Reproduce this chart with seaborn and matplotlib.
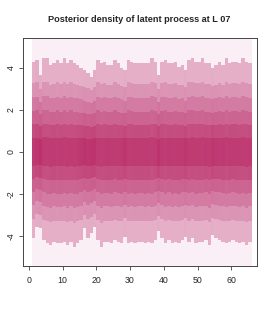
import numpy as np
import matplotlib
matplotlib.use("Agg")
import matplotlib.pyplot as plt
import seaborn as sns

# -------------------------------
# DATA
# -------------------------------
TIME = list(range(1, 66))  # left edge of each column, column spans [t, t+1)

# outer edge of the coloured density per column
UPPER_EDGE = [4.30, 4.38, 3.67, 4.46, 4.46, 4.14, 4.22, 4.38, 4.22, 4.46,
              4.22, 4.38, 4.22, 4.14, 3.98, 3.90, 3.75, 3.59, 3.90, 4.38,
              4.22, 4.30, 4.14, 4.14, 4.38, 4.22, 3.98, 3.90, 4.38, 4.30,
              4.22, 4.22, 4.22, 4.22, 4.22, 4.46, 4.30, 3.67, 4.30, 4.38,
              4.22, 4.22, 4.30, 4.06, 4.14, 3.90, 4.38, 4.46, 4.30, 4.30,
              4.46, 4.22, 4.22, 3.98, 4.14, 4.30, 4.14, 4.46, 4.22, 4.30,
              4.30, 4.22, 4.46, 4.30, 4.22]
LOWER_EDGE = [-4.11, -3.56, -3.63, -4.19, -4.35, -4.43, -4.27, -4.35, -4.35, -4.27,
              -4.43, -4.27, -4.51, -4.35, -4.19, -3.63, -4.11, -3.87, -3.56, -4.19,
              -4.51, -4.27, -4.27, -4.35, -4.19, -4.27, -4.35, -4.03, -4.35, -4.27,
              -4.35, -4.27, -4.27, -4.35, -4.27, -4.35, -4.19, -3.79, -4.11, -4.35,
              -4.19, -4.35, -4.27, -4.35, -4.19, -4.03, -4.27, -4.11, -4.35, -4.27,
              -4.27, -4.19, -4.43, -3.95, -4.11, -4.19, -4.27, -4.35, -4.27, -4.19,
              -4.27, -4.35, -4.27, -4.43, -4.27]

# inner band edges as a share of the outer edge, how much each band follows
# its column's own edge, and the shade of each band
BAND_FRACTIONS = [1.0, 0.77, 0.61, 0.46, 0.31, 0.16]
BAND_FOLLOW = [1.0, 0.6, 0.55, 0.5, 0.5, 0.5]
BAND_LEVELS = [0.04, 0.40, 0.54, 0.65, 0.75, 0.85, 0.93]

X_TICKS = [0, 10, 20, 30, 40, 50, 60]
Y_TICKS = [-4, -2, 0, 2, 4]
TITLE = "Posterior density of latent process at L 07"

# -------------------------------
# BUILD DENSITY GRID
# -------------------------------
Y_LIM = (-5.43, 5.43)
y_edges = np.linspace(Y_LIM[0], Y_LIM[1], 435)
y_mid = (y_edges[:-1] + y_edges[1:]) / 2
x_edges = np.array(TIME + [TIME[-1] + 1])

upper = np.array(UPPER_EDGE)
lower = np.array(LOWER_EDGE)
width = upper - lower
scale = (width.mean() / width) ** 0.3  # narrower column -> a touch denser

Z = np.zeros((len(y_mid), len(TIME)))
for i in range(len(TIME)):
    level = np.zeros(len(y_mid), dtype=int)
    for k, (f, w) in enumerate(zip(BAND_FRACTIONS, BAND_FOLLOW)):
        up = f * (w * upper[i] + (1 - w) * upper.mean())
        lo = f * (w * lower[i] + (1 - w) * lower.mean())
        level[(y_mid <= up) & (y_mid >= lo)] = k + 1
    vals = np.array(BAND_LEVELS)[level]
    vals = np.where(level > 0, BAND_LEVELS[0] + (vals - BAND_LEVELS[0]) * scale[i], vals)
    Z[:, i] = np.clip(vals, 0, 1)

# -------------------------------
# PLOT
# -------------------------------
sns.set_style("white")
plt.rcParams["font.family"] = ["Liberation Sans", "DejaVu Sans"]

cmap = sns.blend_palette(["#FCF6F9", "#DE9DBA", "#B92B67"], as_cmap=True)

fig = plt.figure(figsize=(2.75, 3.14), dpi=100)
ax = fig.add_axes([23 / 275, 1 - 266 / 314, 234 / 275, 228 / 314])
ax.pcolormesh(x_edges, y_edges, Z, cmap=cmap, vmin=0, vmax=1, shading="flat")

ax.set_xlim(-1.7, 67.6)
ax.set_ylim(*Y_LIM)
ax.set_xticks(X_TICKS)
ax.set_yticks(Y_TICKS)
ax.set_xticklabels([str(t) for t in X_TICKS], fontsize=6.3)
ax.set_yticklabels([str(t) for t in Y_TICKS], fontsize=6.3, rotation=90, va="center")
ax.tick_params(axis="both", direction="out", length=3, width=0.6, color="#444444",
               left=True, bottom=True, right=False, top=False)
ax.tick_params(axis="x", pad=4.5)
ax.tick_params(axis="y", pad=2.5)
for sp in ax.spines.values():
    sp.set_visible(True)
    sp.set_color("#444444")
    sp.set_linewidth(0.7)

fig.text(0.505, 1 - 19 / 314, TITLE, ha="center", va="center",
         fontsize=6.6, fontweight="bold")

fig.savefig("out.png", dpi=100)
